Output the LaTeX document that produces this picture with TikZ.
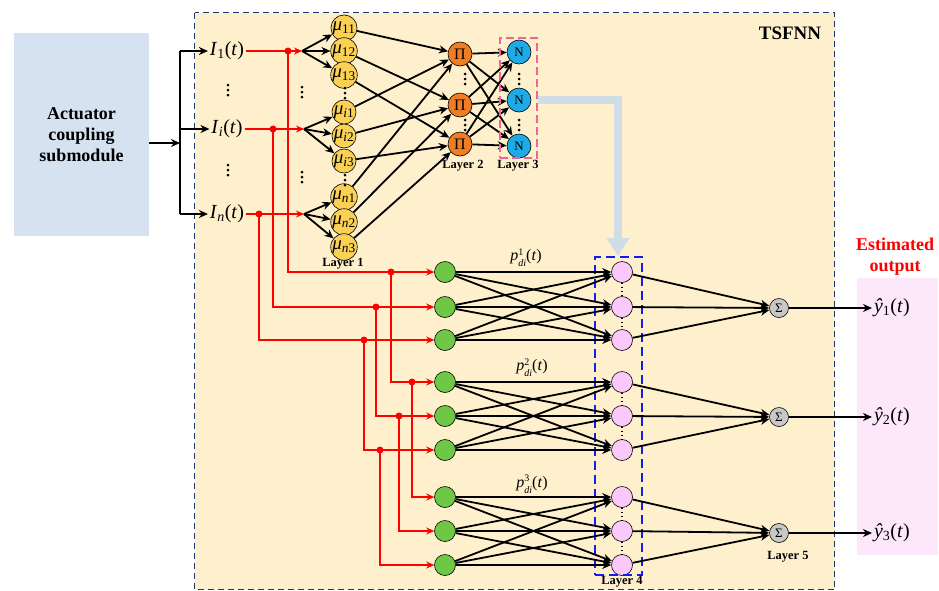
\documentclass[tikz,border=0pt]{standalone}
\usepackage{fontspec}
\setmainfont{Liberation Serif}
\usetikzlibrary{arrows.meta}
\definecolor{tsbg}{RGB}{254,240,204}
\definecolor{actbg}{RGB}{214,226,240}
\definecolor{outbg}{RGB}{252,232,250}
\definecolor{muY}{RGB}{250,208,85}
\definecolor{piO}{RGB}{240,125,35}
\definecolor{nB}{RGB}{30,170,230}
\definecolor{gG}{RGB}{110,200,70}
\definecolor{pP}{RGB}{250,200,250}
\definecolor{sG}{RGB}{200,200,200}
\definecolor{gbar}{RGB}{208,220,230}
\definecolor{dkblue}{RGB}{25,55,105}
\definecolor{pinkd}{RGB}{240,100,150}
\definecolor{blued}{RGB}{20,30,235}
\newcommand\vdd[2]{\fill (#1,#2-5) circle (1.5) (#1,#2) circle (1.5) (#1,#2+5) circle (1.5);}
\newcommand\pdi[1]{\textit{p}\raisebox{-6pt}{\fontsize{10}{10}\selectfont\shortstack[l]{#1\\[1.5pt]\textit{di}}}(\textit{t})}
\begin{document}
\begin{tikzpicture}[x=1pt,y=-1pt,
  every node/.style={inner sep=0pt},
  lab/.style={font=\fontsize{20}{20}\selectfont,outer sep=2pt},
  plab/.style={font=\fontsize{16}{16}\selectfont},
  layer/.style={font=\fontsize{12.5}{12.5}\selectfont\bfseries},
  mu/.style={circle,draw,line width=0.6pt,fill=muY,minimum size=23pt,font=\fontsize{19}{19}\selectfont},
  pi/.style={circle,draw,line width=0.6pt,fill=piO,minimum size=24pt,font=\fontsize{16}{16}\selectfont},
  nn/.style={circle,draw,line width=0.6pt,fill=nB,minimum size=24pt,font=\fontsize{13}{13}\selectfont},
  gn/.style={circle,draw,line width=0.6pt,fill=gG,minimum size=21pt},
  pn/.style={circle,draw,line width=0.6pt,fill=pP,minimum size=21pt},
  sn/.style={circle,draw,line width=0.6pt,fill=sG,minimum size=19pt,font=\fontsize{13}{13}\selectfont},
  arr/.style={line width=1.8pt,-{Stealth[length=9pt,width=8pt]}},
  rarr/.style={red,line width=2pt,-{Stealth[length=8pt,width=7pt]}},
  jdot/.style={circle,fill=red,minimum size=7pt},
  pdots/.style={line width=1.6pt,dash pattern=on 1.6pt off 2.4pt},
]
\useasboundingbox (0,0) rectangle (939,590);
\fill[white] (0,0) rectangle (939,590);
% TSFNN frame
\draw[dkblue,line width=1.2pt,dash pattern=on 6pt off 4pt,fill=tsbg] (194.5,12.5) rectangle (834.5,589.5);
\node[font=\fontsize{19}{19}\selectfont\bfseries] (ts) at (790,33) {TSFNN};
% actuator box
\node[fill=actbg,minimum width=135pt,minimum height=203pt,align=center,
      font=\fontsize{18}{21}\selectfont\bfseries] (act) at (81.5,134.5) {Actuator\\coupling\\submodule};
% output box
\node[fill=outbg,minimum width=81pt,minimum height=277pt] (outb) at (897.5,416.5) {};
\node[font=\fontsize{18}{21}\selectfont\bfseries,text=red,align=center] (est) at (895,257) {Estimated\\output};
% inputs
\coordinate (aout) at (149,143);
\coordinate (bt) at (180,51);
\coordinate (bm) at (180,143);
\coordinate (bb) at (180,214);
\draw[arr] (aout) -- (bm);
\draw[line width=1.8pt] (bt) -- (bb);
\node[lab] (I1) at (227,51) {\textit{I}\textsubscript{1}(\textit{t})};
\node[lab] (Ii) at (227,129) {\textit{I}\textsubscript{\textit{i}}(\textit{t})};
\node[lab] (In) at (227,214) {\textit{I}\textsubscript{\textit{n}}(\textit{t})};
\draw[arr] (bt) -- (I1.west);
\draw[arr] (180,129) -- (Ii.west);
\draw[arr] (bb) -- (In.west);
\vdd{228}{90}
\vdd{228}{170}
% branch points
\coordinate (b1) at (302,51);
\coordinate (b2) at (304,129);
\coordinate (b3) at (304,214);
\vdd{302}{92}
\vdd{302}{177}
% membership nodes
\node[mu] (m11) at (344,28) {\textit{μ}\textsubscript{11}};
\node[mu] (m12) at (344,51) {\textit{μ}\textsubscript{12}};
\node[mu] (m13) at (344,75) {\textit{μ}\textsubscript{13}};
\node[mu] (mi1) at (344,112) {\textit{μ}\textsubscript{\textit{i}1}};
\node[mu] (mi2) at (344,136) {\textit{μ}\textsubscript{\textit{i}2}};
\node[mu] (mi3) at (344,161) {\textit{μ}\textsubscript{\textit{i}3}};
\node[mu] (mn1) at (344,197) {\textit{μ}\textsubscript{\textit{n}1}};
\node[mu] (mn2) at (344,222) {\textit{μ}\textsubscript{\textit{n}2}};
\node[mu] (mn3) at (344,247) {\textit{μ}\textsubscript{\textit{n}3}};
\vdd{345}{93}
\vdd{345}{180}
\node[layer] (L1) at (343,264) {Layer 1};
\foreach \s/\t in {b1/m11,b1/m12,b1/m13,b2/mi1,b2/mi2,b2/mi3,b3/mn1,b3/mn2,b3/mn3}
  \draw[arr] (\s) -- (\t);
% product nodes
\node[pi] (P1) at (460,54) {Π};
\node[pi] (P2) at (460,105) {Π};
\node[pi] (P3) at (460,144) {Π};
\vdd{465}{79}
\vdd{465}{125}
\node[layer] (L2) at (463,166) {Layer 2};
\foreach \s/\t in {m11/P1,m12/P2,m13/P3,mi1/P1,mi2/P2,mi3/P3,mn1/P1,mn2/P2,mn3/P3}
  \draw[arr] (\s) -- (\t);
% normalization nodes
\node[nn] (N1) at (519,52) {N};
\node[nn] (N2) at (519,100) {N};
\node[nn] (N3) at (519,146) {N};
\vdd{519}{79}
\vdd{519}{125}
\foreach \s in {P1,P2,P3}
  \foreach \t in {N1,N2,N3}
    \draw[arr] (\s) -- (\t);
\node[draw=pinkd,line width=2pt,dash pattern=on 8pt off 4pt,minimum width=37pt,minimum height=120pt] (L3box) at (518.5,98) {};
\node[layer] (L3) at (518,166) {Layer 3};
% lower network
\foreach \n/\y in {1/272,2/307,3/340,4/382,5/416,6/450,7/497,8/531,9/565}{
  \node[gn] (g\n) at (445,\y) {};
  \node[pn] (p\n) at (622,\y) {};
}
\node[draw=blued,line width=2.4pt,dash pattern=on 9pt off 5pt,minimum width=47pt,minimum height=318pt] (L4box) at (618.5,416) {};
\node[layer] (L4) at (622,582) {Layer 4};
\coordinate (gtip) at (618,256);
\draw[gbar,line width=8pt,-{Triangle[length=18pt,width=22pt]}] (L3box.east |- N2) -| (gtip);
\foreach \a/\b/\c in {1/2/3,4/5/6,7/8/9}{
  \foreach \s in {\a,\b,\c}
    \foreach \t in {\a,\b,\c}
      \draw[arr] (g\s) -- (p\t);
  \draw[pdots] (p\a.south) -- (p\b.north);
  \draw[pdots] (p\b.south) -- (p\c.north);
}
\node[plab] (pd1) at (526,258) {\pdi{1}};
\node[plab] (pd2) at (532,368) {\pdi{2}};
\node[plab] (pd3) at (532,484) {\pdi{3}};
% sum nodes
\node[sn] (s1) at (779,308) {Σ};
\node[sn] (s2) at (779,417) {Σ};
\node[sn] (s3) at (779,533) {Σ};
\node[layer] (L5) at (788,557) {Layer 5};
\foreach \p/\s in {1/s1,2/s1,3/s1,4/s2,5/s2,6/s2,7/s3,8/s3,9/s3}
  \draw[arr] (p\p) -- (\s);
\node[lab,anchor=west] (y1) at (872,308) {\textit{ŷ}\textsubscript{1}(\textit{t})};
\node[lab,anchor=west] (y2) at (872,417) {\textit{ŷ}\textsubscript{2}(\textit{t})};
\node[lab,anchor=west] (y3) at (872,533) {\textit{ŷ}\textsubscript{3}(\textit{t})};
\draw[arr] (s1) -- (y1.west);
\draw[arr] (s2) -- (y2.west);
\draw[arr] (s3) -- (y3.west);
% red routing
\draw[rarr] (I1.east) -- (b1);
\draw[rarr] (Ii.east) -- (b2);
\draw[rarr] (In.east) -- (b3);
\node[jdot] (d1) at (288,51) {};
\node[jdot] (d2) at (273,129) {};
\node[jdot] (d3) at (259,214) {};
\node[jdot] (d11) at (391,272) {};
\node[jdot] (d12) at (412,382) {};
\node[jdot] (d21) at (376,307) {};
\node[jdot] (d22) at (399,416) {};
\node[jdot] (d31) at (364,340) {};
\node[jdot] (d32) at (380,450) {};
\draw[rarr] (d1.center) |- (g1.west);
\draw[rarr] (d2.center) |- (g2.west);
\draw[rarr] (d3.center) |- (g3.west);
\draw[rarr] (d11.center) |- (g4.west);
\draw[rarr] (d12.center) |- (g7.west);
\draw[rarr] (d21.center) |- (g5.west);
\draw[rarr] (d22.center) |- (g8.west);
\draw[rarr] (d31.center) |- (g6.west);
\draw[rarr] (d32.center) |- (g9.west);
\end{tikzpicture}
\end{document}
